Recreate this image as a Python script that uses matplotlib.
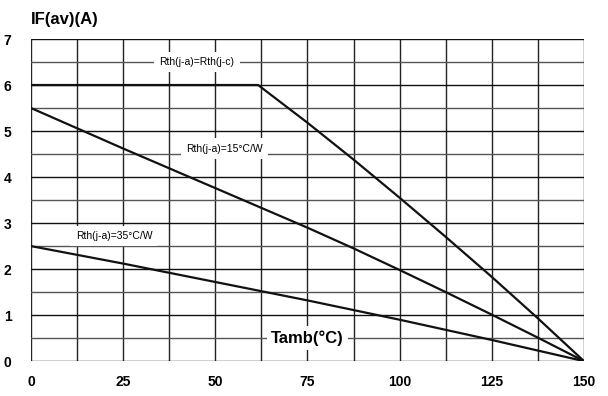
import numpy as np
import matplotlib.pyplot as plt

plt.rcParams['font.family'] = ['Liberation Sans', 'DejaVu Sans']

# curves (Tamb in degC, IF(av) in A)
tamb_jc = [0, 61.6, 75, 87.5, 100, 112.5, 125, 137.5, 150]
if_jc = [6.0, 6.0, 5.18, 4.38, 3.55, 2.70, 1.83, 0.93, 0.0]

tamb_15 = [0, 12.5, 25, 37.5, 50, 62.5, 75, 87.5, 100, 112.5, 125, 137.5, 150]
if_15 = [5.5, 5.06, 4.62, 4.19, 3.76, 3.33, 2.90, 2.45, 1.98, 1.50, 1.01, 0.51, 0.0]

tamb_35 = [0, 12.5, 25, 37.5, 50, 62.5, 75, 87.5, 100, 112.5, 125, 137.5, 150]
if_35 = [2.5, 2.31, 2.12, 1.92, 1.72, 1.52, 1.32, 1.11, 0.90, 0.68, 0.46, 0.23, 0.0]

x_ticks = [0, 25, 50, 75, 100, 125, 150]
y_ticks = [0, 1, 2, 3, 4, 5, 6, 7]

fig = plt.figure(figsize=(6.08, 3.96), dpi=100)
ax = fig.add_axes([0.051, 0.088, 0.9095, 0.8135])

# grid
for xv in np.arange(0, 150.1, 12.5):
    ax.axvline(xv, color='#222222', lw=1.0, zorder=1)
for yv in np.arange(0, 7.01, 0.5):
    c = '#111111' if yv % 1 == 0 else '#555555'
    ax.axhline(yv, color=c, lw=1.0, zorder=1)

for xs, ys in [(tamb_jc, if_jc), (tamb_15, if_15), (tamb_35, if_35)]:
    ax.plot(xs, ys, color='#111111', lw=1.6, zorder=3, solid_joinstyle='round')

box = dict(boxstyle='square,pad=0.5', facecolor='white', edgecolor='none')
ax.text(45, 6.5, 'Rth(j-a)=Rth(j-c)', fontsize=7.5, ha='center', va='center', bbox=box, zorder=4)
ax.text(52.6, 4.62, 'Rth(j-a)=15°C/W', fontsize=7.5, ha='center', va='center', bbox=box, zorder=4)
ax.text(22.5, 2.72, 'Rth(j-a)=35°C/W', fontsize=7.5, ha='center', va='center', bbox=box, zorder=4)
ax.text(75, 0.5, 'Tamb(°C)', fontsize=12, fontweight='bold', ha='center', va='center',
        bbox=dict(boxstyle='square,pad=0.25', facecolor='white', edgecolor='none'), zorder=4)

ax.set_xlim(0, 150)
ax.set_ylim(0, 7)
ax.set_xticks(x_ticks)
ax.set_yticks(y_ticks)
ax.tick_params(length=0, labelsize=10, pad=10)
ax.tick_params(axis='y', pad=14)
for lab in ax.get_xticklabels() + ax.get_yticklabels():
    lab.set_fontweight('bold')
for s in ax.spines.values():
    s.set_visible(False)

fig.text(0.051, 0.952, 'IF(av)(A)', fontsize=12, fontweight='bold', ha='left', va='center')

fig.savefig('out.png', dpi=100)
